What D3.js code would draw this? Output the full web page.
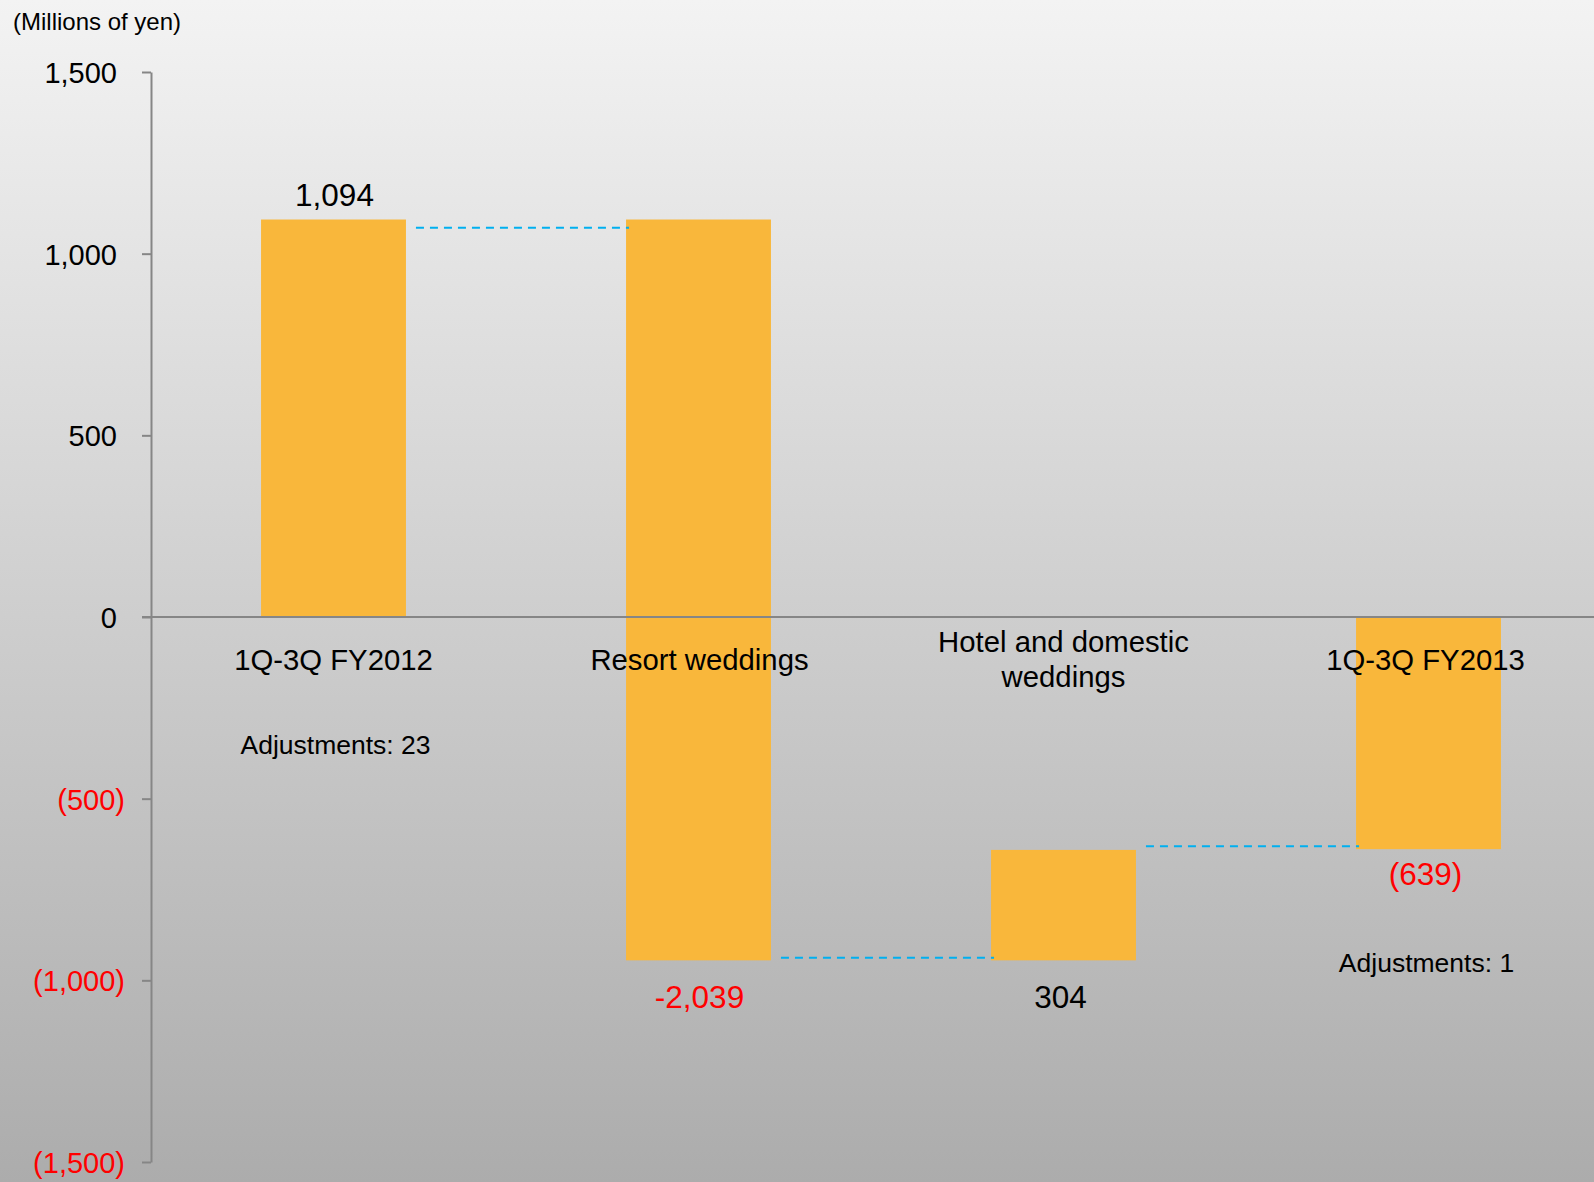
<!DOCTYPE html>
<html>
<head>
<meta charset="utf-8">
<script src="https://cdn.jsdelivr.net/npm/d3@7/dist/d3.min.js"></script>
<style>
html,body{margin:0;padding:0;overflow:hidden;}
text{font-family:"Liberation Sans",Arial,sans-serif;}
</style>
</head>
<body>
<svg id="chart" width="1594" height="1182"></svg>
<script>
// ---- data ----
const categories = ["1Q-3Q FY2012", "Resort weddings", "Hotel and domestic weddings", "1Q-3Q FY2013"];
const categoryLines = [["1Q-3Q FY2012"], ["Resort weddings"], ["Hotel and domestic", "weddings"], ["1Q-3Q FY2013"]];
const barStart = [0, 1094, -945, 0];
const barEnd = [1094, -945, -641, -639];
const dataLabels = ["1,094", "-2,039", "304", "(639)"];
const dataLabelNegative = [false, true, false, true];
const connectorLevels = [1071, -938, -631];
const adjustments = [{cat: 0, text: "Adjustments: 23"}, {cat: 3, text: "Adjustments: 1"}];
const yTicks = [1500, 1000, 500, 0, -500, -1000, -1500];
const unitLabel = "(Millions of yen)";

// ---- layout ----
const W = 1594, H = 1182;
const svg = d3.select("#chart");
const defs = svg.append("defs");
const grad = defs.append("linearGradient").attr("id", "bg").attr("x1", 0).attr("y1", 0).attr("x2", 0).attr("y2", 1);
grad.append("stop").attr("offset", "0%").attr("stop-color", "#f3f3f3");
grad.append("stop").attr("offset", "100%").attr("stop-color", "#acacac");
svg.append("rect").attr("width", W).attr("height", H).attr("fill", "url(#bg)");

const axisX = 151;
const y = d3.scaleLinear().domain([-1500, 1500]).range([1162, 72]);
const x = d3.scaleBand().domain(categories).range([axisX, 1611]).paddingInner(0.603).paddingOuter(0.3015);
const bw = x.bandwidth();

const barColor = "#F9B73B";
const axisColor = "#868686";
const red = "#FF0000";

// bars
svg.append("g").selectAll("rect").data(categories).join("rect")
  .attr("x", d => x(d))
  .attr("width", bw)
  .attr("y", (d, i) => y(Math.max(barStart[i], barEnd[i])))
  .attr("height", (d, i) => Math.abs(y(barStart[i]) - y(barEnd[i])))
  .attr("fill", barColor);

// connectors
svg.append("g").selectAll("line").data(connectorLevels).join("line")
  .attr("x1", (d, i) => x(categories[i]) + bw + 10)
  .attr("x2", (d, i) => x(categories[i + 1]) + 3)
  .attr("y1", d => y(d)).attr("y2", d => y(d))
  .attr("stroke", "#00B0F0").attr("stroke-width", 2)
  .attr("stroke-dasharray", "8,6");

// y axis
const yAxis = d3.axisLeft(y).tickValues(yTicks).tickSize(9).tickSizeOuter(0)
  .tickFormat(d => d < 0 ? "(" + d3.format(",")(-d) + ")" : d3.format(",")(d));
const gy = svg.append("g").attr("transform", `translate(${axisX},0)`).call(yAxis);
gy.select(".domain").attr("stroke", axisColor).attr("stroke-width", 2);
gy.selectAll(".tick line").attr("stroke", axisColor).attr("stroke-width", 2);
gy.selectAll(".tick text")
  .attr("font-size", 29)
  .attr("font-family", "'Liberation Sans', Arial, sans-serif")
  .attr("x", d => d < 0 ? -26 : -34)
  .attr("dy", "0.36em")
  .attr("fill", d => d < 0 ? red : "#000");

// zero line
svg.append("line").attr("x1", axisX - 9).attr("x2", W)
  .attr("y1", y(0)).attr("y2", y(0))
  .attr("stroke", axisColor).attr("stroke-width", 2);

// category labels
const catBase = 670, lineH = 35;
const catShift = [0, 1, 0, -3];
categoryLines.forEach((lines, i) => {
  const cx = x(categories[i]) + bw / 2 + catShift[i];
  const t = svg.append("text").attr("text-anchor", "middle").attr("font-size", 29.3).attr("fill", "#000");
  const start = lines.length > 1 ? catBase - 18 : catBase;
  lines.forEach((ln, j) => {
    t.append("tspan").attr("x", cx).attr("y", start + j * lineH).text(ln);
  });
});

// data labels
const labelOffsets = [-14, 48, 48, 36];
const labelShift = [1, 1, -3, -3];
svg.append("g").selectAll("text").data(dataLabels).join("text")
  .attr("x", (d, i) => x(categories[i]) + bw / 2 + labelShift[i])
  .attr("y", (d, i) => {
    const top = y(Math.max(barStart[i], barEnd[i]));
    const bot = y(Math.min(barStart[i], barEnd[i]));
    return labelOffsets[i] < 0 ? top + labelOffsets[i] : bot + labelOffsets[i];
  })
  .attr("text-anchor", "middle")
  .attr("font-size", 31.5)
  .attr("fill", (d, i) => dataLabelNegative[i] ? red : "#000")
  .text(d => d);

// adjustments
const adjY = [754, 972];
const adjShift = [2, -2];
svg.append("g").selectAll("text").data(adjustments).join("text")
  .attr("x", (d, i) => x(categories[d.cat]) + bw / 2 + adjShift[i])
  .attr("y", (d, i) => adjY[i])
  .attr("text-anchor", "middle")
  .attr("font-size", 26.5)
  .attr("fill", "#000")
  .text(d => d.text);

// unit label
svg.append("text").attr("x", 13).attr("y", 30).attr("font-size", 24).attr("fill", "#000").text(unitLabel);
</script>
</body>
</html>
